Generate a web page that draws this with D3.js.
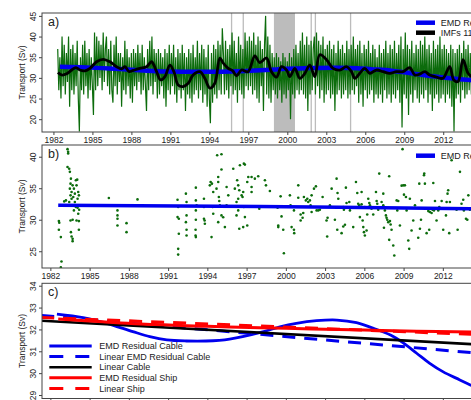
<!DOCTYPE html>
<html>
<head>
<meta charset="utf-8">
<script src="https://cdn.jsdelivr.net/npm/d3@7"></script>
<style>
    body { margin: 0; background: #fff; }
    svg { display: block; font-family: "Liberation Sans", Arial, sans-serif; }
</style>
</head>
<body>
<svg id="chart" width="471" height="400"></svg>
<script>

// ---- DATA ---- //

const tickYears = [1982, 1985, 1988, 1991, 1994, 1997, 2000, 2003, 2006, 2009, 2012];
const yTicksA = [20, 25, 30, 35, 40, 45];
const yTicksB = [25, 30, 35, 40];
const yTicksC = [29, 30, 31, 32, 33, 34];

// periods with missing cable data (years)
const gapPeriods = [
    [1995.66, 1995.76], [1996.56, 1996.66], [1998.97, 2000.59],
    [2001.79, 2001.89], [2002.11, 2002.21], [2004.82, 2004.92]
];

// cable transport, monthly samples (Sv)
const cableStart = 1982.33;
const cableTransport = [
    37, 27, 35, 25, 40, 28, 38, 26, 36,                 // 1982
    29, 40, 23, 37, 27, 38, 26, 36, 28, 39, 25, 17,     // 1983
    35, 27, 38, 26, 39, 28, 36, 25, 37, 27, 35, 28,     // 1984
    21, 41, 27, 40, 28, 39, 30, 38, 27, 41, 29, 37,     // 1985
    40, 28, 37, 26, 39, 27, 24, 38, 28, 40, 26, 36,     // 1986
    29, 36, 23, 35, 27, 39, 26, 37, 28, 35, 25, 36,     // 1987
    24, 37, 28, 36, 27, 38, 29, 36, 26, 38, 27, 35,     // 1988
    28, 22, 37, 27, 39, 28, 40, 26, 37, 29, 36, 25,     // 1989
    37, 26, 36, 28, 35, 25, 37, 23, 36, 27, 38, 26,     // 1990
    36, 28, 38, 26, 35, 24, 37, 27, 36, 25, 38, 27,     // 1991
    36, 22, 35, 26, 37, 25, 36, 24, 38, 26, 35, 27,     // 1992
    39, 25, 36, 27, 38, 24, 37, 26, 35, 23, 38, 25,     // 1993
    19, 36, 24, 38, 26, 37, 25, 39, 27, 38, 26, 42,     // 1994
    36, 26, 39, 27, 37, 25, 38, 28, 41, 26, 39, 27,     // 1995
    36, 24, 40, 27, 38, 26, 37, 25, 41, 28, 39, 27,     // 1996
    40, 28, 39, 26, 41, 27, 38, 25, 40, 24, 39, 28,     // 1997
    37, 22, 38, 45, 26, 40, 25, 38, 24, 36, 27, 35,     // 1998
    26, 36, 25, 35, 27, 34, 24, 36, 26, 35, 25, 34,     // 1999
    27, 36, 20, 35, 26, 37, 25, 38, 27, 36, 26, 39,     // 2000
    27, 41, 26, 38, 25, 40, 22, 38, 26, 39, 27, 37,     // 2001
    40, 26, 41, 28, 39, 25, 38, 27, 40, 24, 37, 26,     // 2002
    38, 27, 39, 25, 37, 26, 38, 22, 36, 26, 39, 27,     // 2003
    37, 25, 38, 26, 36, 27, 39, 25, 37, 26, 38, 27,     // 2004
    40, 26, 37, 28, 38, 24, 39, 26, 36, 23, 38, 27,     // 2005
    37, 25, 39, 26, 36, 27, 38, 24, 37, 26, 35, 25,     // 2006
    38, 26, 36, 24, 37, 27, 39, 25, 36, 26, 38, 24,     // 2007
    37, 26, 39, 25, 36, 27, 38, 24, 40, 18, 37, 26,     // 2008
    41, 25, 38, 21, 37, 26, 39, 24, 36, 27, 38, 25,     // 2009
    37, 24, 39, 26, 38, 25, 40, 27, 37, 24, 38, 26,     // 2010
    36, 22, 39, 25, 37, 26, 38, 24, 40, 25, 37, 26,     // 2011
    38, 24, 37, 26, 36, 25, 38, 23, 37, 17, 36, 25,     // 2012
    37, 26, 38, 24, 36, 27, 39, 25, 37, 26, 38, 27,     // 2013
    36, 26, 38, 25, 37, 27                              // 2014
];

// sum of low frequency IMFs (black curve, panel a)
const imfLowFreq = [
    [1982.35, 31.3], [1982.63, 30.7], [1983.02, 31.0], [1983.4, 31.9], [1983.73, 32.5],
    [1984.04, 31.9], [1984.42, 31.7], [1984.81, 32.3], [1985.32, 33.9], [1985.83, 34.5],
    [1986.35, 33.9], [1986.86, 32.7], [1987.25, 32.2], [1987.5, 32.7], [1987.83, 31.5],
    [1988.14, 31.8], [1988.65, 32.3], [1989.17, 32.7], [1989.55, 33.9], [1989.73, 33.1],
    [1989.94, 31.5], [1990.25, 29.5], [1990.58, 30.3], [1990.96, 33.1], [1991.27, 31.5],
    [1991.6, 28.3], [1991.98, 27.9], [1992.37, 28.7], [1992.75, 30.7], [1993.27, 31.5],
    [1993.65, 29.9], [1994.04, 27.5], [1994.42, 28.7], [1994.81, 34.8], [1995.06, 33.6],
    [1995.45, 32.3], [1995.8, 31.7], [1996.09, 30.5], [1996.48, 31.9], [1996.98, 31.5],
    [1997.5, 35.3], [1997.88, 33.7], [1998.4, 34.8], [1998.78, 31.5], [1999.17, 30.2],
    [1999.55, 32.7], [1999.94, 31.9], [2000.19, 30.3], [2000.58, 32.3], [2000.96, 29.9],
    [2001.35, 31.1], [2001.73, 33.1], [2002.12, 30.3], [2002.5, 35.6], [2003.02, 34.4],
    [2003.52, 32.3], [2004.04, 31.9], [2004.55, 32.7], [2004.94, 31.5], [2005.19, 29.9],
    [2005.58, 31.1], [2005.96, 32.3], [2006.35, 31.1], [2006.86, 31.9], [2007.37, 31.5],
    [2007.88, 31.1], [2008.4, 31.5], [2008.91, 31.5], [2009.42, 32.5], [2009.81, 30.7],
    [2010.19, 30.9], [2010.58, 31.5], [2010.96, 30.7], [2011.48, 30.2], [2011.98, 29.9],
    [2012.5, 32.7], [2012.81, 29.5], [2013.14, 29.1], [2013.52, 34.4], [2013.91, 31.1],
    [2014.3, 30.0]
];

// EMD residual of the cable record (blue, panels a and c)
const emdResidualCable = [
    [1982.5, 32.7], [1984.5, 32.54], [1986.3, 32.28], [1988.3, 31.9], [1989.6, 31.67],
    [1990.9, 31.52], [1992.4, 31.47], [1993.9, 31.47], [1995.7, 31.56], [1998.3, 31.9],
    [1999.55, 32.12], [2000.8, 32.28], [2002.35, 32.4], [2003.9, 32.43], [2005.4, 32.31],
    [2006.7, 32.05], [2008.0, 31.74], [2009.0, 31.37], [2010.0, 30.91], [2011.0, 30.45],
    [2012.0, 30.07], [2013.3, 29.69], [2014.1, 29.46], [2015.0, 29.2]
];

// ship sections (panel b)
const shipObs = [
    [1982.65, 29.78], [1982.68, 29.52], [1982.65, 28.4], [1982.8, 27.24], [1982.85, 23.36], [1982.8, 22.45],
    [1983.06, 32.91], [1983.19, 33.07], [1983.31, 41.2], [1983.36, 40.77], [1983.36, 40.5], [1983.31, 38.38],
    [1983.44, 38.1], [1983.49, 37.6], [1983.57, 36.52], [1983.54, 35.73], [1983.49, 34.93], [1983.62, 34.4],
    [1983.54, 33.87], [1983.75, 33.6], [1983.44, 32.81], [1983.62, 33.34], [1983.8, 34.93], [1983.7, 35.46],
    [1983.87, 34.14], [1983.95, 36.26], [1984.05, 36.36], [1984.0, 35.46], [1984.13, 34.4], [1984.18, 33.87],
    [1984.08, 33.34], [1983.87, 32.81], [1983.8, 32.28], [1983.95, 32.01], [1984.08, 31.91], [1984.2, 31.59],
    [1983.8, 31.48], [1984.13, 30.95], [1983.54, 29.89], [1983.7, 29.99], [1984.0, 29.89], [1984.18, 29.78],
    [1984.18, 28.4], [1983.62, 27.34], [1983.7, 26.97], [1983.7, 26.6], [1983.57, 28.03],
    [1986.47, 33.45], [1987.13, 32.28], [1987.13, 31.48], [1987.13, 30.69], [1987.13, 30.15], [1987.13, 29.09],
    [1987.82, 29.46], [1987.82, 28.03], [1988.66, 33.23],
    [1991.72, 33.18], [1991.77, 32.01], [1991.72, 30.42], [1991.82, 30.15], [1991.82, 27.77], [1991.77, 25.38],
    [1991.77, 24.47], [1992.36, 34.14], [1992.41, 32.81], [1992.41, 30.69], [1992.36, 29.62], [1992.41, 28.4],
    [1992.41, 27.5], [1993.12, 35.09], [1993.12, 33.07], [1993.18, 32.28], [1993.12, 31.48], [1993.12, 29.99],
    [1993.1, 28.4], [1993.1, 27.5], [1993.12, 27.24], [1993.74, 33.34], [1993.74, 32.01], [1993.74, 30.15],
    [1993.79, 29.89], [1993.81, 29.36], [1994.32, 27.24], [1994.19, 35.46], [1994.25, 35.99], [1994.35, 35.73],
    [1994.45, 34.4], [1994.4, 32.01], [1994.45, 30.95], [1994.75, 40.24], [1995.08, 40.4], [1994.83, 36.79],
    [1994.83, 35.99], [1994.7, 34.93], [1994.88, 33.6], [1994.91, 32.97], [1994.96, 32.28], [1994.83, 29.62],
    [1995.08, 30.69], [1995.08, 37.96], [1995.21, 30.4], [1995.34, 28.83], [1995.47, 35.2], [1995.47, 32.28],
    [1995.6, 33.87], [1995.98, 38.1], [1996.1, 34.93], [1996.28, 36.26], [1996.36, 33.34], [1996.36, 31.48],
    [1996.23, 30.69], [1996.44, 28.56],
    [1996.23, 32.81], [1996.36, 35.46], [1996.44, 34.67], [1996.49, 38.65], [1996.62, 33.87], [1996.79, 38.9],
    [1996.87, 38.75], [1996.74, 34.4], [1996.69, 33.6], [1996.79, 32.01], [1996.87, 30.42], [1996.74, 28.83],
    [1997.05, 29.09], [1997.05, 35.99], [1997.13, 36.79], [1997.38, 36.79], [1997.63, 36.52], [1997.89, 36.9],
    [1997.38, 35.2], [1997.38, 34.4], [1997.97, 31.75], [1998.4, 36.26], [1998.48, 35.46], [1998.78, 34.56],
    [1999.37, 31.91], [1999.42, 28.83], [1999.42, 29.09], [1999.6, 33.71], [1999.67, 30.53], [1999.8, 28.4],
    [1999.85, 24.69], [2000.31, 33.87], [2000.36, 32.28], [2000.44, 28.83], [2000.62, 28.4], [2000.64, 27.87],
    [2000.62, 31.48], [2000.95, 35.46], [2000.95, 33.5], [2001.13, 29.89], [2001.13, 30.84], [2001.28, 30.31],
    [2001.33, 31.06], [2001.38, 33.6], [2001.53, 33.07], [2001.64, 33.34], [2001.71, 32.81], [2001.84, 33.07],
    [2001.89, 32.28], [2001.97, 31.22], [2001.97, 33.87], [2002.15, 34.93], [2002.3, 35.3], [2002.35, 31.48],
    [2002.48, 31.48], [2002.6, 31.59], [2002.81, 33.6], [2003.11, 29.89], [2003.16, 27.34], [2003.19, 30.31],
    [2003.37, 32.28], [2003.5, 34.93], [2003.75, 29.99], [2003.88, 36.52], [2003.95, 34.24], [2003.93, 28.4],
    [2004.01, 33.34], [2004.26, 27.87], [2004.39, 32.01], [2004.39, 28.93], [2004.44, 31.59], [2004.52, 29.2],
    [2004.59, 35.09], [2004.64, 32.65], [2004.85, 32.81], [2004.9, 31.48], [2005.03, 31.91], [2005.15, 28.83],
    [2005.36, 35.99], [2005.46, 34.24], [2005.53, 32.54], [2005.61, 32.28], [2005.66, 30.42], [2005.79, 34.4],
    [2005.79, 32.44], [2005.87, 29.89], [2005.92, 28.83], [2005.97, 28.03], [2006.04, 27.5], [2006.04, 32.01],
    [2006.17, 28.3], [2006.22, 30.84], [2006.3, 33.34], [2006.38, 32.65], [2006.43, 32.28], [2006.55, 31.75],
    [2006.68, 30.84], [2006.89, 34.4], [2006.94, 32.97], [2006.99, 32.54], [2007.06, 31.59], [2007.14, 37.32],
    [2007.32, 32.81], [2007.45, 34.14], [2007.45, 32.28], [2007.5, 28.72], [2007.57, 31.48], [2007.65, 30.69],
    [2007.7, 30.31], [2007.75, 29.99], [2007.83, 29.62], [2007.9, 36.9], [2007.9, 26.81], [2007.96, 29.78],
    [2008.01, 29.25], [2008.08, 28.4], [2008.21, 25.91], [2008.29, 24.32], [2008.47, 33.07], [2008.52, 31.48],
    [2008.59, 32.97], [2008.72, 29.09], [2008.85, 35.41], [2008.92, 41.2], [2008.98, 35.46], [2009.03, 33.98],
    [2009.1, 35.46], [2009.18, 33.6], [2009.23, 31.48], [2009.36, 26.7], [2009.43, 25.38], [2009.48, 33.34],
    [2009.61, 28.3], [2009.74, 29.89], [2009.87, 32.28], [2010.12, 27.13], [2010.2, 35.73], [2010.25, 28.56],
    [2010.33, 29.99], [2010.38, 33.07], [2010.56, 37.05], [2010.58, 37.32], [2010.63, 35.73], [2010.76, 27.87],
    [2010.89, 31.37], [2010.96, 28.4], [2011.01, 31.22], [2011.14, 31.06], [2011.22, 31.59], [2011.27, 35.83],
    [2011.32, 31.48], [2011.4, 32.97], [2011.52, 29.89], [2011.65, 31.48], [2011.73, 32.01], [2011.91, 32.97],
    [2012.03, 28.4], [2012.24, 30.69], [2012.29, 32.81], [2012.36, 34.14], [2012.41, 34.67], [2012.49, 27.87],
    [2012.54, 32.81], [2012.67, 39.44], [2013.05, 31.59], [2013.13, 28.4], [2013.31, 37.6], [2013.43, 32.54],
    [2013.56, 33.18], [2013.61, 31.48], [2013.77, 30.15], [2013.87, 29.99], [2013.95, 33.87], [2014.07, 31.59]
];
const shipEmdPanelB = [[1982.6, 32.3], [1998.0, 32.1], [2014.2, 31.75], [2016.5, 31.7]];

// trends (panel c)
const linearEmdCable = [[1981.3, 32.64], [2016.5, 30.82]];
const linearCable = [[1981.3, 32.4], [2016.5, 31.25]];
const emdResidualShip = [
    [1982.6, 32.48], [1986, 32.35], [1990, 32.22], [1994, 32.14], [1998, 32.08],
    [2002, 32.02], [2006, 31.97], [2010, 31.92], [2014.2, 31.88], [2016.5, 31.86]
];
const linearShip = [[1981.3, 32.55], [2016.5, 31.72]];

const legendA = ["EMD Residual", "IMFs 11-14"];
const legendB = ["EMD Residual"];
const legendC = ["EMD Residual Cable", "Linear EMD Residual Cable", "Linear Cable", "EMD Residual Ship", "Linear Ship"];

// ---- LAYOUT ---- //

const svg = d3.select("#chart");
const L = 42, R = 501.7;
const frameColor = "#444";
const textColor = "#222";
const blue = "#0000ee", red = "#ff0000", green = "#0c6c0c";

const xA = d3.scaleLinear().domain([1981.12, 2016.5]).range([L, R]);
const xBC = d3.scaleLinear().domain([1981.36, 2016.5]).range([L, R]);

const panelA = { name: "a", top: 13, bottom: 132, y: [16.9, 45.7], ticks: yTicksA, x: xA };
const panelB = { name: "b", top: 145, bottom: 268, y: [22.34, 41.86], ticks: yTicksB, x: xBC };
const panelC = { name: "c", top: 283.3, bottom: 398.5, y: [28.84, 34.11], ticks: yTicksC, x: xBC };

function setup(p) {
    p.yScale = d3.scaleLinear().domain(p.y).range([p.bottom, p.top]);

    svg.append("clipPath")
        .attr("id", `clip-${p.name}`)
        .append("rect")
            .attr("x", L)
            .attr("y", p.top)
            .attr("width", R - L)
            .attr("height", p.bottom - p.top);

    p.g = svg.append("g").attr("clip-path", `url(#clip-${p.name})`);
}

function axes(p) {
    const xAxis = d3.axisBottom(p.x)
        .tickValues(tickYears)
        .tickFormat(d3.format("d"))
        .tickSize(3)
        .tickPadding(1.5);
    const gx = svg.append("g")
        .attr("transform", `translate(0, ${p.bottom})`)
        .call(xAxis);

    const yAxis = d3.axisLeft(p.yScale)
        .tickValues(p.ticks)
        .tickFormat(d3.format("d"))
        .tickSize(3);
    const gy = svg.append("g")
        .attr("transform", `translate(${L}, 0)`)
        .call(yAxis);
    gy.selectAll("text")
        .attr("x", 0)
        .attr("y", -6.5)
        .attr("dy", 0)
        .attr("text-anchor", "middle")
        .attr("transform", "rotate(-90)");

    [gx, gy].forEach(g => {
        g.select(".domain").remove();
        g.selectAll("line").attr("stroke", frameColor);
        g.selectAll("text")
            .attr("fill", textColor)
            .style("font-size", "8.5px")
            .style("font-family", "'Liberation Sans', Arial, sans-serif");
    });

    svg.append("rect")
        .attr("x", L)
        .attr("y", p.top)
        .attr("width", R - L)
        .attr("height", p.bottom - p.top)
        .attr("fill", "none")
        .attr("stroke", frameColor)
        .attr("stroke-width", 1);

    svg.append("text")
        .attr("transform", `translate(25, ${(p.top + p.bottom) / 2}) rotate(-90)`)
        .attr("text-anchor", "middle")
        .attr("fill", textColor)
        .style("font-size", "8.5px")
        .text("Transport (Sv)");

    svg.append("text")
        .attr("x", 48)
        .attr("y", p.top + 12.5)
        .attr("fill", textColor)
        .style("font-size", "12.5px")
        .text(`${p.name})`);
}

function curve(p, data, color, w, dash) {
    const line = d3.line()
        .x(d => p.x(d[0]))
        .y(d => p.yScale(d[1]))
        .curve(d3.curveCatmullRom);
    p.g.append("path")
        .attr("d", line(data))
        .attr("fill", "none")
        .attr("stroke", color)
        .attr("stroke-width", w)
        .attr("stroke-dasharray", dash || null);
}

function legend(items, x0, y0, dy, textX) {
    items.forEach((it, i) => {
        const y = y0 + i * dy;
        svg.append("line")
            .attr("x1", x0[0]).attr("x2", x0[1])
            .attr("y1", y).attr("y2", y)
            .attr("stroke", it.color)
            .attr("stroke-width", it.w)
            .attr("stroke-dasharray", it.dash || null);
        svg.append("text")
            .attr("x", textX)
            .attr("y", y + 3.2)
            .attr("fill", textColor)
            .style("font-size", "9px")
            .text(it.label);
    });
}

// ----- PANEL A ----- //

setup(panelA);

panelA.g.selectAll(".gap")
    .data(gapPeriods)
    .enter()
    .append("rect")
        .attr("class", "gap")
        .attr("x", d => xA(d[0]))
        .attr("y", panelA.top)
        .attr("width", d => xA(d[1]) - xA(d[0]))
        .attr("height", panelA.bottom - panelA.top)
        .attr("fill", "#bcbcbc");

const cableLine = d3.line()
    .x((d, i) => xA(cableStart + i / 12))
    .y(d => panelA.yScale(d));
panelA.g.append("path")
    .attr("d", cableLine(cableTransport))
    .attr("fill", "none")
    .attr("stroke", green)
    .attr("stroke-width", 1.2);

curve(panelA, emdResidualCable, blue, 4.5);
curve(panelA, imfLowFreq, "#000", 2.8);
axes(panelA);

legend([
    { label: legendA[0], color: blue, w: 4.5 },
    { label: legendA[1], color: "#000", w: 4.5 }
], [416, 435], 22.7, 10, 440.7);

// ----- PANEL B ----- //

setup(panelB);

panelB.g.selectAll(".ship")
    .data(shipObs)
    .enter()
    .append("circle")
        .attr("class", "ship")
        .attr("cx", d => xBC(d[0]))
        .attr("cy", d => panelB.yScale(d[1]))
        .attr("r", 1.3)
        .attr("fill", green);

curve(panelB, shipEmdPanelB, blue, 3.5);
axes(panelB);

legend([{ label: legendB[0], color: blue, w: 4.5 }], [416, 435], 155.7, 10, 440.7);

// ----- PANEL C ----- //

setup(panelC);

curve(panelC, emdResidualCable, blue, 2.8);
curve(panelC, linearEmdCable, blue, 3, "13,9");
curve(panelC, linearCable, "#000", 2.6);
curve(panelC, emdResidualShip, red, 3);
curve(panelC, linearShip, red, 3, "13,9");
axes(panelC);

legend([
    { label: legendC[0], color: blue, w: 2.8 },
    { label: legendC[1], color: blue, w: 3, dash: "14,12" },
    { label: legendC[2], color: "#000", w: 2.6 },
    { label: legendC[3], color: red, w: 3 },
    { label: legendC[4], color: red, w: 3, dash: "14,12" }
], [49.3, 91.7], 346, 10.6, 99.3);

</script>
</body>
</html>
